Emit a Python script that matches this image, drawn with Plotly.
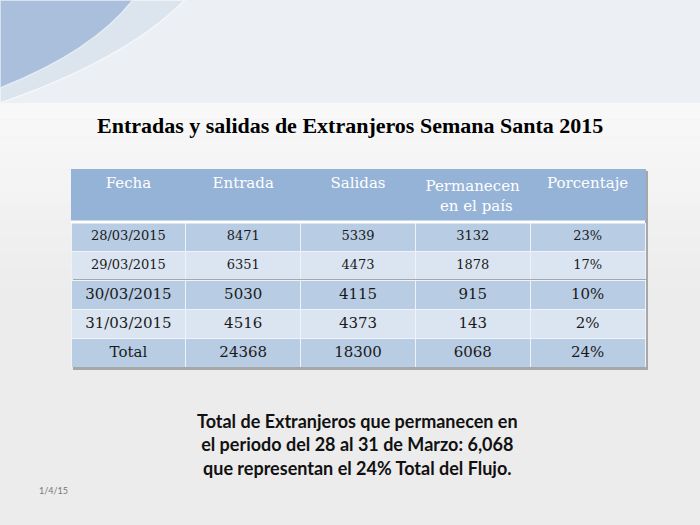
import plotly.graph_objects as go

# data
fechas = ["28/03/2015", "29/03/2015", "30/03/2015", "31/03/2015", "Total"]
entradas = [8471, 6351, 5030, 4516, 24368]
salidas = [5339, 4473, 4115, 4373, 18300]
permanecen = [3132, 1878, 915, 143, 6068]
porcentaje = ["23%", "17%", "10%", "2%", "24%"]
# non-breaking spaces centre the short second line (table lines share one left edge)
headers = ["Fecha", "Entrada", "Salidas", "Permanecen<br>\u00a0\u00a0\u00a0en el país", "Porcentaje"]

TITLE = "Entradas y salidas de Extranjeros Semana Santa 2015"
NOTE = ("Total de Extranjeros que permanecen en<br>"
        "el periodo del 28 al 31 de Marzo: 6,068<br>"
        "que representan el 24% Total del Flujo.")
DATE = "1/4/15"

W, H = 700, 525
HEAD_BLUE = "#95b3d7"
DARK_ROW = "#b8cce4"
LIGHT_ROW = "#dbe5f1"
row_fill = [DARK_ROW, LIGHT_ROW, DARK_ROW, LIGHT_ROW, DARK_ROW]
GRID = "#eef3f9"
HEAD_H, ROW_H = 53, 29
SPLIT = 2  # first two data rows use a smaller type size on the slide

# table box in pixels (top-left origin)
tx0, tx1, ty0 = 71, 645, 169
ty_split = ty0 + HEAD_H + SPLIT * ROW_H
ty1 = ty_split + (len(fechas) - SPLIT) * ROW_H


def py(v):
    return 1 - v / H


cols = [fechas, entradas, salidas, permanecen, porcentaje]
top_cols = [c[:SPLIT] for c in cols]
first_big = [c[SPLIT] for c in cols]
rest_cols = [c[SPLIT + 1:] for c in cols]

fig = go.Figure()
fig.add_trace(go.Table(
    domain=dict(x=[tx0 / W, tx1 / W], y=[py(ty_split), py(ty0)]),
    header=dict(values=headers, align="center", height=HEAD_H,
                fill_color=HEAD_BLUE, line=dict(color=HEAD_BLUE, width=1),
                font=dict(family="DejaVu Serif", size=15, color="white")),
    cells=dict(values=top_cols, align="center", height=ROW_H,
               fill_color=[row_fill[:SPLIT]], line=dict(color=GRID, width=1),
               font=dict(family="DejaVu Serif", color="#1a1a1a", size=13))))
# lower block: its "header" row is simply the first large-type data row
fig.add_trace(go.Table(
    domain=dict(x=[tx0 / W, tx1 / W], y=[py(ty1), py(ty_split)]),
    header=dict(values=first_big, align="center", height=ROW_H,
                fill_color=row_fill[SPLIT], line=dict(color=GRID, width=1),
                font=dict(family="DejaVu Serif", color="#1a1a1a", size=15)),
    cells=dict(values=rest_cols, align="center", height=ROW_H,
               fill_color=[row_fill[SPLIT + 1:]], line=dict(color=GRID, width=1),
               font=dict(family="DejaVu Serif", color="#1a1a1a", size=15))))

# slide background: soft gradient bands
shapes = [dict(type="rect", xref="paper", yref="paper", x0=0, x1=1, y0=py(103), y1=1,
               fillcolor="#eceff3", line_width=0, layer="below")]
steps = 12
for i in range(steps):
    t = i / (steps - 1)
    g = round(248 - (248 - 236) * t)
    y_a = 103 + i * 200 / steps
    shapes.append(dict(type="rect", xref="paper", yref="paper", x0=0, x1=1,
                       y0=py(y_a + 200 / steps), y1=py(y_a),
                       fillcolor=f"rgb({g},{g},{g})", line_width=0, layer="below"))
shapes += [
    dict(type="path", xref="paper", yref="paper", layer="below",
         path=f"M 0 {py(103)} Q {125 / W} {py(60)} {185 / W} 1 L 0 1 Z",
         fillcolor="#dce4ee", line=dict(color="#f4f6f9", width=1.5)),
    dict(type="path", xref="paper", yref="paper", layer="below",
         path=f"M 0 {py(88)} Q {92 / W} {py(52)} {133 / W} 1 L 0 1 Z",
         fillcolor="#a9bfdc", line=dict(color="#e6ecf3", width=1.5)),
    # table shadow
    dict(type="rect", xref="paper", yref="paper", layer="below",
         x0=(tx0 + 2) / W, x1=(tx1 + 3) / W, y0=py(ty1 + 3), y1=py(ty0 + 2),
         fillcolor="#a7a7a7", line_width=0),
    # white rule under the header
    dict(type="line", xref="paper", yref="paper", x0=tx0 / W, x1=tx1 / W,
         y0=py(ty0 + HEAD_H), y1=py(ty0 + HEAD_H), line=dict(color="white", width=3)),
]

fig.add_annotation(x=0.5, y=py(125), xref="paper", yref="paper", yanchor="middle",
                   text=f"<b>{TITLE}</b>", showarrow=False,
                   font=dict(family="Liberation Serif", size=22, color="black"))
fig.add_annotation(x=357 / W, y=py(444), xref="paper", yref="paper", yanchor="middle",
                   text=f"<b>{NOTE}</b>", showarrow=False, align="center",
                   font=dict(family="Lato", size=18, color="#111111"))
fig.add_annotation(x=53 / W, y=py(490), xref="paper", yref="paper", yanchor="middle",
                   xanchor="center", text=DATE, showarrow=False,
                   font=dict(family="Lato", size=9, color="#777777"))

fig.update_layout(width=W, height=H, margin=dict(l=0, r=0, t=0, b=0),
                  paper_bgcolor="#ececec", plot_bgcolor="#ececec", shapes=shapes)
fig.write_html("out.html", config={"displayModeBar": False},
               post_script="document.body.style.margin='0';")
